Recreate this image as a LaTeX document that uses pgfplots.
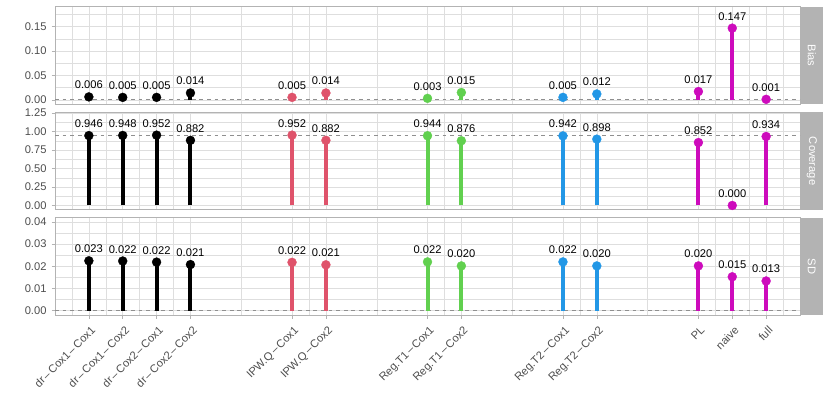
\documentclass[border=0pt]{standalone}
\usepackage{fontspec}
\setmainfont{Liberation Sans}
\usepackage{pgfplots}
\pgfplotsset{compat=1.18}
\definecolor{cA}{HTML}{000000}
\definecolor{cB}{HTML}{DF536B}
\definecolor{cC}{HTML}{61D04F}
\definecolor{cD}{HTML}{2297E6}
\definecolor{cE}{HTML}{CD0BBC}
\definecolor{g70}{HTML}{B3B3B3}
\definecolor{g87}{HTML}{DEDEDE}
\definecolor{g30}{HTML}{4D4D4D}
\definecolor{hl}{HTML}{8F8F8F}
\newcommand\tf{\fontsize{11.2}{13}\selectfont}
\newcommand\lf{\fontsize{11.2}{13}\selectfont}
\newcommand\md{\kern.14em--\kern.14em}
\pgfplotsset{
 panel/.style={
  scale only axis, width=745bp, height=97.5bp,
  anchor=south west,
  xmin=0, xmax=22,
  xtick={1,2,3,4,7,8,11,12,15,16,19,20,21},
  minor xtick={0.5,1.5,2.5,3.5,5.5,7.5,9.5,11.5,13.5,15.5,17.5,19.5,20.5,21.5},
  grid=both,
  major grid style={draw=g87, line width=0.6bp},
  minor grid style={draw=g87, line width=0.35bp},
  axis line style={draw=g70, line width=1bp},
  tick style={draw=g70, line width=0.6bp},
  major tick length=3.3bp, minor tick length=0pt,
  tick align=outside,
  xtick pos=left, ytick pos=left,
  scaled y ticks=false,
  yticklabel style={font=\tf, text=g30, inner sep=0pt, xshift=-5bp,
    /pgf/number format/fixed, /pgf/number format/fixed zerofill,
    /pgf/number format/precision=2, /pgf/number format/assume math mode=true},
  xticklabel style={font=\tf, text=g30},
 },
 toppanel/.style={panel, xticklabels={}, x tick style={draw=none}},
 stem/.style={ycomb, draw=#1, line width=4bp, mark=*, mark size=4.5bp,
   mark options={fill=#1, draw=#1, line width=0.3bp, solid},
   nodes near coords, point meta=explicit symbolic,
   nodes near coords style={font=\lf, text=black, anchor=base, inner sep=0pt, yshift=8bp}},
 hline/.style={draw=hl, line width=0.8bp, dash pattern=on 3.8bp off 3.8bp},
}
\begin{document}
\begin{tikzpicture}
\path[use as bounding box] (0,0) rectangle (830bp,415bp);
% ---------------- Bias
\begin{axis}[toppanel, at={(55bp,310.8bp)}, ymin=-0.009, ymax=0.191,
  ytick={0,0.05,0.10,0.15}, minor ytick={0.025,0.075,0.125,0.175}]
\addplot[hline] coordinates {(0,0) (22,0)};
\addplot[stem=cA] table[meta=l] {
x y l
1 0.006 0.006
2 0.005 0.005
3 0.005 0.005
4 0.014 0.014
};
\addplot[stem=cB] table[meta=l] {
x y l
7 0.005 0.005
8 0.014 0.014
};
\addplot[stem=cC] table[meta=l] {
x y l
11 0.003 0.003
12 0.015 0.015
};
\addplot[stem=cD] table[meta=l] {
x y l
15 0.005 0.005
16 0.012 0.012
};
\addplot[stem=cE] table[meta=l] {
x y l
19 0.017 0.017
20 0.147 0.147
21 0.001 0.001
};
\end{axis}
% ---------------- Coverage
\begin{axis}[toppanel, at={(55bp,205.1bp)}, ymin=-0.06, ymax=1.26,
  ytick={0,0.25,0.5,0.75,1,1.25}, minor ytick={0.125,0.375,0.625,0.875,1.125}]
\addplot[hline] coordinates {(0,0.95) (22,0.95)};
\addplot[stem=cA] table[meta=l] {
x y l
1 0.946 0.946
2 0.948 0.948
3 0.952 0.952
4 0.882 0.882
};
\addplot[stem=cB] table[meta=l] {
x y l
7 0.952 0.952
8 0.882 0.882
};
\addplot[stem=cC] table[meta=l] {
x y l
11 0.944 0.944
12 0.876 0.876
};
\addplot[stem=cD] table[meta=l] {
x y l
15 0.942 0.942
16 0.898 0.898
};
\addplot[stem=cE] table[meta=l] {
x y l
19 0.852 0.852
20 0.000 0.000
21 0.934 0.934
};
\end{axis}
% ---------------- SD
\begin{axis}[panel, at={(55bp,99.8bp)}, ymin=-0.002, ymax=0.0419,
  ytick={0,0.01,0.02,0.03,0.04}, minor ytick={0.005,0.015,0.025,0.035},
  xticklabels={dr\md Cox1\md Cox1,dr\md Cox1\md Cox2,dr\md Cox2\md Cox1,dr\md Cox2\md Cox2,IPW.Q\md Cox1,IPW.Q\md Cox2,Reg.T1\md Cox1,Reg.T1\md Cox2,Reg.T2\md Cox1,Reg.T2\md Cox2,PL,naive,full},
  xticklabel style={xshift=1.5bp, yshift=-2bp, rotate=45, anchor=north east}]
\addplot[hline] coordinates {(0,0) (22,0)};
\addplot[stem=cA] table[meta=l] {
x y l
1 0.0225 0.023
2 0.0224 0.022
3 0.0219 0.022
4 0.0208 0.021
};
\addplot[stem=cB] table[meta=l] {
x y l
7 0.0218 0.022
8 0.0207 0.021
};
\addplot[stem=cC] table[meta=l] {
x y l
11 0.0220 0.022
12 0.0202 0.020
};
\addplot[stem=cD] table[meta=l] {
x y l
15 0.0220 0.022
16 0.0202 0.020
};
\addplot[stem=cE] table[meta=l] {
x y l
19 0.0202 0.020
20 0.0153 0.015
21 0.0134 0.013
};
\end{axis}
% ---------------- strips
\fill[g70] (800.5bp,310.8bp) rectangle (823bp,408.3bp);
\node[rotate=-90, text=white, font=\tf] at (811.8bp,359.55bp) {Bias};
\fill[g70] (800.5bp,205.1bp) rectangle (823bp,302.6bp);
\node[rotate=-90, text=white, font=\tf] at (811.8bp,253.85bp) {Coverage};
\fill[g70] (800.5bp,99.8bp) rectangle (823bp,197.3bp);
\node[rotate=-90, text=white, font=\tf] at (811.8bp,148.55bp) {SD};
\end{tikzpicture}
\end{document}
